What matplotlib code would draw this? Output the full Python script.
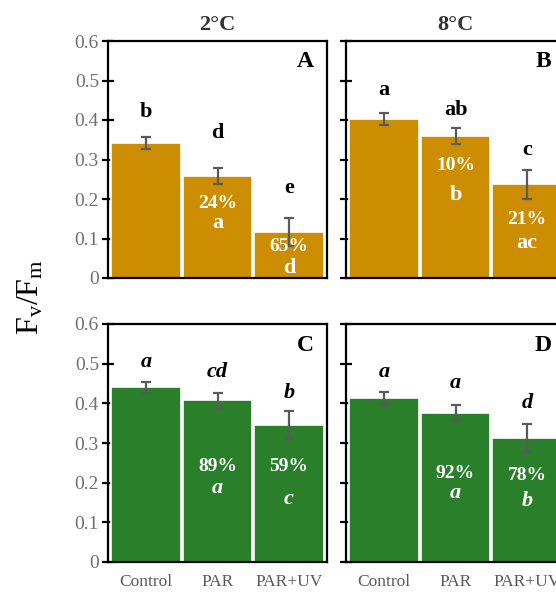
import matplotlib
matplotlib.use("Agg")
import matplotlib.pyplot as plt

plt.rcParams['font.family'] = ['Liberation Serif', 'DejaVu Serif']
plt.rcParams['mathtext.fontset'] = 'custom'
plt.rcParams['mathtext.rm'] = 'Liberation Serif'
plt.rcParams['mathtext.it'] = 'Liberation Serif:italic'

categories = ["Control", "PAR", "PAR+UV"]
temps = ["2°C", "8°C"]
panel_ids = ["A", "B", "C", "D"]

# Fv/Fm means and errors
vals_A = [0.342, 0.258, 0.116]
err_A = [0.015, 0.020, 0.035]
vals_B = [0.402, 0.360, 0.237]
err_B = [0.015, 0.020, 0.037]
vals_C = [0.440, 0.408, 0.345]
err_C = [0.014, 0.019, 0.035]
vals_D = [0.413, 0.376, 0.313]
err_D = [0.016, 0.021, 0.035]

# letters above bars
top_A = ["b", "d", "e"]
top_B = ["a", "ab", "c"]
top_C = ["a", "cd", "b"]
top_D = ["a", "a", "d"]
# percentages and letters inside bars
pct_A = ["", "24%", "65%"]
in_A = ["", "a", "d"]
pct_B = ["", "10%", "21%"]
in_B = ["", "b", "ac"]
pct_C = ["", "89%", "59%"]
in_C = ["", "a", "c"]
pct_D = ["", "92%", "78%"]
in_D = ["", "a", "b"]

gold = "#CC8E00"
green = "#2A7F2A"

fig = plt.figure(figsize=(5.56, 5.93), dpi=100)

W, H = 556, 593
def rect(l, t, r, b):
    return [l / W, 1 - b / H, (r - l) / W, (b - t) / H]

panels = [
    dict(pos=rect(108, 41, 327, 278), v=vals_A, e=err_A, top=top_A, pct=pct_A, inn=in_A,
         c=gold, italic=False, left=True, bottom=False,
         top_y=[0.421, 0.366, 0.227], pct_y=[0, 0.189, 0.079], in_y=[0, 0.138, 0.025], title=temps[0]),
    dict(pos=rect(346, 41, 565, 278), v=vals_B, e=err_B, top=top_B, pct=pct_B, inn=in_B,
         c=gold, italic=False, left=False, bottom=False,
         top_y=[0.476, 0.425, 0.324], pct_y=[0, 0.284, 0.147], in_y=[0, 0.21, 0.089], title=temps[1]),
    dict(pos=rect(108, 324, 327, 562), v=vals_C, e=err_C, top=top_C, pct=pct_C, inn=in_C,
         c=green, italic=True, left=True, bottom=True,
         top_y=[0.505, 0.48, 0.425], pct_y=[0, 0.24, 0.24], in_y=[0, 0.186, 0.16], title=None),
    dict(pos=rect(346, 324, 565, 562), v=vals_D, e=err_D, top=top_D, pct=pct_D, inn=in_D,
         c=green, italic=True, left=False, bottom=True,
         top_y=[0.48, 0.452, 0.40], pct_y=[0, 0.224, 0.219], in_y=[0, 0.173, 0.154], title=None),
]

x = list(range(len(categories)))
for pid, p in zip(panel_ids, panels):
    ax = fig.add_axes(p['pos'])
    ax.bar(x, p['v'], width=0.97, color=p['c'], edgecolor='white', linewidth=1.2, zorder=2)
    ax.errorbar(x, p['v'], yerr=p['e'], fmt='none', ecolor='#5a5a5a', elinewidth=1.6,
                capsize=3.5, capthick=1.6, zorder=3)
    ax.set_xlim(-0.53, 2.53)
    ax.set_ylim(0, 0.6)
    ax.set_yticks([0, 0.1, 0.2, 0.3, 0.4, 0.5, 0.6])
    ax.set_yticklabels(["0", "0.1", "0.2", "0.3", "0.4", "0.5", "0.6"])
    ax.tick_params(axis='y', direction='inout', length=9, width=1.6, colors='black',
                   labelcolor='#707070', labelsize=14, pad=2)
    if not p['left']:
        ax.tick_params(axis='y', labelleft=False)
    ax.set_xticks(x)
    ax.tick_params(axis='x', length=0, labelcolor='#5a5a5a', labelsize=12.5, pad=9)
    if p['bottom']:
        ax.set_xticklabels(categories)
    else:
        ax.set_xticklabels([])
    for s in ax.spines.values():
        s.set_linewidth(1.6)
        s.set_color('black')
    style = 'italic' if p['italic'] else 'normal'
    for i in x:
        ax.text(i, p['top_y'][i], p['top'][i], ha='center', va='center', fontsize=16,
                fontweight='bold', fontstyle=style, color='black', zorder=4)
        if p['pct'][i]:
            ax.text(i, p['pct_y'][i], p['pct'][i], ha='center', va='center', fontsize=14,
                    fontweight='bold', color='white', zorder=4)
            ax.text(i, p['in_y'][i], p['inn'][i], ha='center', va='center', fontsize=16,
                    fontweight='bold', fontstyle=style, color='white', zorder=4)
    ax.text(2.23, 0.547, pid, ha='center', va='center', fontsize=17, fontweight='bold', color='black')
    if p['title']:
        ax.set_title(p['title'], fontsize=16, fontweight='bold', color='#333333', pad=8)

fig.text(0.055, 0.5, r'$\mathrm{F_v/F_m}$', rotation=90, ha='center', va='center',
         fontsize=23, color='black')

fig.savefig("out.png", dpi=100)
